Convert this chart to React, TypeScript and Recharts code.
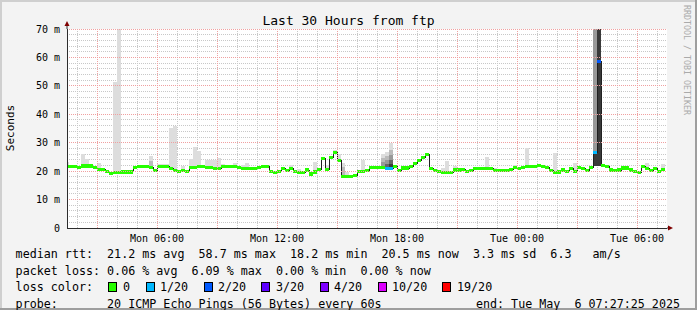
import React from "react";
import { ComposedChart, Area, XAxis, YAxis, CartesianGrid, ReferenceLine } from "recharts";

// median rtt (ms) per 12-minute bucket, Mon 01:24 .. Tue 07:24
const MEDIAN_RTT = [
  21.6, 21.6, 21.6, 21.2, 21.8, 21.8, 21.8, 21.2, 20.5, 20.5,
  19.8, 19.3, 19.5, 19.5, 19.7, 19.7, 19.7, 21.2, 21.7, 21.7,
  21.7, 21.2, 20.3, 21.7, 21.7, 21.5, 20.8, 20.3, 19.8, 20.3,
  19.9, 21.2, 21.2, 21.5, 21.5, 21.3, 21.3, 20.9, 20.9, 21.6,
  21.6, 21.6, 21.6, 21.2, 21.0, 21.0, 21.0, 21.0, 21.2, 21.5,
  21.5, 19.8, 19.5, 19.8, 20.9, 20.1, 20.9, 19.8, 19.6, 19.6,
  20.4, 19.0, 19.7, 20.7, 24.5, 20.5, 24.7, 26.7, 23.7, 18.2,
  18.2, 18.2, 18.6, 19.8, 19.8, 20.3, 21.2, 21.2, 21.2, 21.2,
  20.9, 20.9, 21.6, 20.2, 21.1, 21.1, 21.6, 22.6, 23.8, 24.9,
  25.8, 20.9, 20.3, 19.9, 19.6, 19.6, 19.6, 20.4, 20.4, 20.7,
  19.8, 20.3, 20.8, 20.8, 20.8, 20.8, 20.8, 20.3, 20.1, 20.1,
  20.1, 20.7, 21.2, 20.9, 21.2, 21.5, 21.5, 21.6, 21.9, 21.6,
  21.2, 20.3, 19.6, 19.7, 20.4, 19.8, 20.9, 19.9, 21.2, 20.9,
  20.3, 21.4, 26.6, 58.7, 21.9, 21.5, 20.4, 20.1, 20.4, 21.1,
  21.1, 20.4, 19.8, 19.6, 21.6, 20.9, 20.3, 20.9, 19.8, 20.5,
];

// [bucket, loss colour index] where loss was not 0
const LOSS_MARKS = [[80, 1], [81, 1], [132, 1], [133, 2]];

// smoke layers: [bucket, top, low?]  (low defaults to the median)
const SMOKE_LIGHT = [
  [0, 23.1], [4, 25.9], [5, 24.3], [8, 23.0], [12, 51.5], [13, 70], [14, 20.4], [15, 20.4],
  [16, 20.4], [21, 25.3], [23, 22.4], [24, 22.4], [25, 22.4], [26, 35.2], [27, 36.0],
  [29, 21.8], [31, 24.3], [32, 28.6], [33, 27.1], [35, 23.9], [36, 23.9], [37, 23.9],
  [38, 24.5], [39, 22.4], [42, 23.0], [44, 22.2], [45, 22.7], [56, 22.2], [58, 20.7],
  [62, 23.3], [65, 22.2], [67, 27.3], [68, 25.9], [69, 22.7], [70, 19.8], [74, 23.9],
  [79, 25.9], [80, 26.6], [81, 29.8], [82, 22.2], [94, 21.0], [95, 23.7], [97, 21.8],
  [105, 25.1], [107, 21.0], [112, 22.2], [115, 28.0], [122, 26.5], [127, 23.0],
  [145, 23.0], [147, 21.6], [149, 22.6],
];
const SMOKE_2 = [[21, 23.5], [69, 21.5], [79, 24.6], [80, 25.2], [81, 27.6]];
const SMOKE_3 = [[79, 23.2], [80, 24.0], [81, 25.6], [132, 70, 21.7]];
const SMOKE_4 = [[80, 22.6], [81, 24.0]];
const SMOKE_5 = [[81, 22.5], [132, 26.2, 21.7], [133, 70, 21.7]];

const TIME_TICKS = [360, 720, 1080, 1440, 1800];
const TIME_LABELS = ["Mon 06:00", "Mon 12:00", "Mon 18:00", "Tue 00:00", "Tue 06:00"];
const Y_TICKS = [0, 10, 20, 30, 40, 50, 60, 70];

const LOSS_LABELS = ["0", "1/20", "2/20", "3/20", "4/20", "10/20", "19/20"];
const LOSS_COLORS = ["#26ff00", "#00b8ff", "#0059ff", "#5e00ff", "#7e00ff", "#dd00ff", "#ff0000"];

const RTT_LINE = "median rtt:  21.2 ms avg  58.7 ms max  18.2 ms min  20.5 ms now  3.3 ms sd  6.3   am/s";
const LOSS_LINE = "packet loss: 0.06 % avg  6.09 % max  0.00 % min  0.00 % now";
const PROBE_LINE = "probe:       20 ICMP Echo Pings (56 Bytes) every 60s";
const END_LINE = "end: Tue May  6 07:27:25 2025";

const MONO = '"DejaVu Sans Mono", monospace';
const X_DOMAIN = [90, 1890]; // minutes since Mon 00:00
const Y_DOMAIN = [0, 70];
const START_MIN = 84; // Mon 01:24
const STEP_MIN = 12;
const BAND = 0.55;
const SMOKE_FILLS = ["#dddddd", "#bbbbbb", "#999999", "#666666", "#3a3a3a"];
const SMOKE_LAYERS = [SMOKE_LIGHT, SMOKE_2, SMOKE_3, SMOKE_4, SMOKE_5];
const SWATCH_X = [108, 146, 204, 261, 320, 378, 442];
const SWATCH_LABEL_X = [123, 160, 218, 276, 334, 392, 457];
const ROW_Y = [258, 274.5, 291, 307.5];
const MARGIN = { top: 29, right: 30, bottom: 62, left: 7 };
const GRID_MINOR = "#c8c8c8";
const GRID_MAJOR = "#f0a0a0";

function buildRows() {
  const loss = new Map(LOSS_MARKS.map((p) => [p[0], p[1]]));
  const layers = SMOKE_LAYERS.map((l) => new Map(l.map((p) => [p[0], p])));
  const rows: any[] = [];
  MEDIAN_RTT.forEach((m, i) => {
    const row: any = { median: m };
    const lv = loss.get(i) ?? 0;
    LOSS_COLORS.forEach((_, k) => {
      row[`band${k}`] = k === lv ? [m - BAND, m + BAND] : null;
    });
    layers.forEach((mp, k) => {
      const p = mp.get(i);
      row[`smoke${k}`] = p ? [p[2] ?? m, p[1]] : null;
    });
    const t0 = START_MIN + STEP_MIN * i;
    rows.push({ t: t0, ...row }, { t: t0 + STEP_MIN, ...row });
  });
  return rows;
}

const rows = buildRows();

// grid: minor every hour / every 2 m, major every 3 hours / every 10 m
const minorX: number[] = [];
for (let t = 120; t <= 1860; t += 60) if (t % 180 !== 0) minorX.push(t);
const majorX: number[] = [];
for (let t = 180; t <= 1800; t += 180) majorX.push(t);
const minorY: number[] = [];
for (let v = 2; v < 70; v += 2) if (v % 10 !== 0) minorY.push(v);
const majorY = [10, 20, 30, 40, 50, 60, 70];

const gridY = ({ yAxis, offset }: any) =>
  minorY.map((v) =>
    typeof yAxis?.scale === "function"
      ? yAxis.scale(v)
      : offset.top + offset.height * (1 - (v - Y_DOMAIN[0]) / (Y_DOMAIN[1] - Y_DOMAIN[0]))
  );
const gridX = ({ xAxis, offset }: any) =>
  minorX.map((t) =>
    typeof xAxis?.scale === "function"
      ? xAxis.scale(t)
      : offset.left + (offset.width * (t - X_DOMAIN[0])) / (X_DOMAIN[1] - X_DOMAIN[0])
  );

function TimeTick(props: any) {
  const { x, y, payload } = props;
  const label = TIME_LABELS[TIME_TICKS.indexOf(payload.value)];
  return (
    <text x={x} y={y} dy={13.6} textAnchor="middle" fontSize={10} fontFamily={MONO} fill="#000">
      {label}
    </text>
  );
}

function RttTick(props: any) {
  const { x, y, payload } = props;
  const v = payload.value;
  return (
    <text x={x - 7} y={y} dy={3.6} textAnchor="end" fontSize={10} fontFamily={MONO} fill="#000">
      {v === 0 ? "0" : `${v} m`}
    </text>
  );
}

export default function App() {
  const plotW = 697 - MARGIN.left - MARGIN.right - 60;
  const plotH = 310 - MARGIN.top - MARGIN.bottom - 20;
  return (
    <div style={{ position: "relative", width: 697, height: 310, background: "#f3f3f3", overflow: "hidden" }}>
      <style>{"body{margin:0} .recharts-surface path,.recharts-surface line{shape-rendering:crispEdges}"}</style>
      {/* white canvas behind the plot area */}
      <div
        style={{
          position: "absolute",
          left: MARGIN.left + 60,
          top: MARGIN.top,
          width: plotW,
          height: plotH,
          background: "#ffffff",
        }}
      />
      <div style={{ position: "absolute", left: 0, top: 0 }}>
        <ComposedChart width={697} height={310} data={rows} margin={MARGIN}>
          <CartesianGrid
            stroke={GRID_MINOR}
            strokeDasharray="1 1"
            horizontalCoordinatesGenerator={gridY}
            verticalCoordinatesGenerator={gridX}
          />
          <XAxis
            type="number"
            dataKey="t"
            domain={X_DOMAIN}
            allowDataOverflow
            ticks={TIME_TICKS}
            height={20}
            tickSize={0}
            tickMargin={0}
            tick={<TimeTick />}
            axisLine={{ stroke: "#2c2c2c" }}
          />
          <YAxis
            type="number"
            domain={Y_DOMAIN}
            allowDataOverflow
            ticks={Y_TICKS}
            width={60}
            tickSize={0}
            tickMargin={0}
            tick={<RttTick />}
            axisLine={{ stroke: "#2c2c2c" }}
          />
          {majorY.map((v) => (
            <ReferenceLine key={`my${v}`} y={v} stroke={GRID_MAJOR} strokeDasharray="1 1" />
          ))}
          {majorX.map((t) => (
            <ReferenceLine key={`mx${t}`} x={t} stroke={GRID_MAJOR} strokeDasharray="1 1" />
          ))}
          {SMOKE_FILLS.map((fill, k) => (
            <Area
              key={`smoke${k}`}
              type="linear"
              dataKey={`smoke${k}`}
              stroke="none"
              fill={fill}
              fillOpacity={1}
              dot={false}
              activeDot={false}
              isAnimationActive={false}
            />
          ))}
          {/* thin dark median line, drawn under the loss-coloured bands */}
          <Area
            type="linear"
            dataKey="median"
            stroke="#202020"
            strokeWidth={1}
            fill="none"
            fillOpacity={0}
            dot={false}
            activeDot={false}
            isAnimationActive={false}
          />
          {LOSS_COLORS.map((c, k) => (
            <Area
              key={`band${k}`}
              type="linear"
              dataKey={`band${k}`}
              stroke="none"
              fill={c}
              fillOpacity={1}
              dot={false}
              activeDot={false}
              isAnimationActive={false}
            />
          ))}
        </ComposedChart>
      </div>

      <svg
        width={697}
        height={310}
        style={{ position: "absolute", left: 0, top: 0, pointerEvents: "none" }}
        fontFamily={MONO}
      >
        <rect x={0} y={0} width={697} height={2} fill="#cfcfcf" />
        <rect x={0} y={0} width={2} height={310} fill="#cfcfcf" />
        <rect x={0} y={308} width={697} height={2} fill="#9e9e9e" />
        <rect x={695} y={0} width={2} height={310} fill="#9e9e9e" />

        <text x={348.5} y={24.5} textAnchor="middle" fontSize={13} fill="#000">
          Last 30 Hours from ftp
        </text>
        <text transform="translate(13.5,128) rotate(-90)" textAnchor="middle" fontSize={11} fill="#000">
          Seconds
        </text>
        <text transform="translate(684,5) rotate(90)" fontSize={8.3} fill="#aaaaaa">
          RRDTOOL / TOBI OETIKER
        </text>

        <line x1={67} y1={29} x2={67} y2={25} stroke="#2c2c2c" />
        <polygon points="64.5,26 69.5,26 67,21" fill="#7f0000" />
        <line x1={667} y1={228} x2={669} y2={228} stroke="#2c2c2c" />
        <polygon points="668,225.5 668,230.5 673,228" fill="#7f0000" />

        <g fontSize={11.7} fill="#000" style={{ whiteSpace: "pre" }}>
          <text x={15.6} y={ROW_Y[0]} xmlSpace="preserve">{RTT_LINE}</text>
          <text x={15.6} y={ROW_Y[1]} xmlSpace="preserve">{LOSS_LINE}</text>
          <text x={15.6} y={ROW_Y[2]}>loss color:</text>
          {LOSS_LABELS.map((lab, k) => (
            <g key={lab}>
              <rect x={SWATCH_X[k] + 0.5} y={ROW_Y[2] - 8.5} width={8} height={9} fill={LOSS_COLORS[k]} stroke="#000" />
              <text x={SWATCH_LABEL_X[k]} y={ROW_Y[2]}>{lab}</text>
            </g>
          ))}
          <text x={15.6} y={ROW_Y[3]} xmlSpace="preserve">{PROBE_LINE}</text>
          <text x={680} y={ROW_Y[3]} textAnchor="end" xmlSpace="preserve">{END_LINE}</text>
        </g>
      </svg>
    </div>
  );
}
